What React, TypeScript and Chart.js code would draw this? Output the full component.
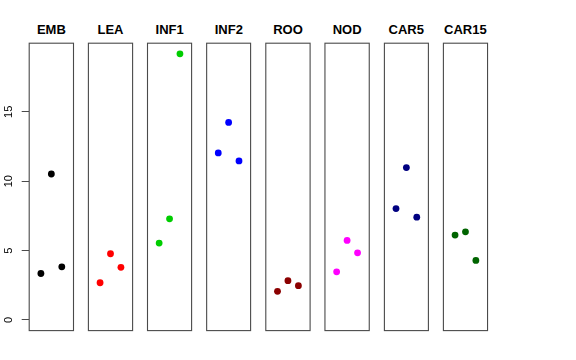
import React, { useEffect, useRef } from "react";
import { Chart, registerables } from "chart.js";

Chart.register(...registerables);

const groups = ["EMB", "LEA", "INF1", "INF2", "ROO", "NOD", "CAR5", "CAR15"];
const colors = ["#000000", "#FF0000", "#00CD00", "#0000FF", "#8B0000", "#FF00FF", "#000080", "#006400"];
const reps = [1, 2, 3];
const EMB = [3.35, 10.52, 3.83];
const LEA = [2.68, 4.77, 3.79];
const INF1 = [5.54, 7.29, 19.18];
const INF2 = [12.04, 14.24, 11.46];
const ROO = [2.06, 2.83, 2.47];
const NOD = [3.47, 5.73, 4.84];
const CAR5 = [8.03, 10.98, 7.41];
const CAR15 = [6.12, 6.35, 4.29];
const series = [EMB, LEA, INF1, INF2, ROO, NOD, CAR5, CAR15];
const yTicks = [0, 5, 10, 15];

const yMaxData = Math.max(...series.flat());
const yExt = yMaxData * 0.04;
const Y_MIN = -yExt;
const Y_MAX = yMaxData + yExt;

const PANEL_LEFT0 = 29.2;
const PANEL_STEP = 59.15;
const PANEL_W = 44.3;
const PANEL_TOP = 43.2;
const PANEL_BOTTOM = 331;
const CANVAS_H = 334;
const FONT = "'Liberation Sans', Arial, Helvetica, sans-serif";

const boxPlugin = {
  id: "boxPlugin",
  afterDraw(chart: any) {
    const { ctx, chartArea } = chart;
    ctx.save();
    ctx.strokeStyle = "#4a4a4a";
    ctx.lineWidth = 1.1;
    ctx.strokeRect(chartArea.left, chartArea.top, chartArea.right - chartArea.left, chartArea.bottom - chartArea.top);
    ctx.restore();
  },
};

function Panel({ idx }: { idx: number }) {
  const ref = useRef<HTMLCanvasElement>(null);
  const pl = PANEL_LEFT0 + idx * PANEL_STEP;
  const pr = pl + PANEL_W;
  const first = idx === 0;
  const canvasLeft = first ? 0 : Math.floor(pl) - 3;
  const canvasW = Math.ceil(pr) + 3 - canvasLeft;
  const padLeft = first ? 0 : pl - canvasLeft;
  const padRight = canvasLeft + canvasW - pr;

  useEffect(() => {
    if (!ref.current) return;
    const chart = new Chart(ref.current, {
      type: "scatter",
      data: {
        datasets: [
          {
            data: reps.map((r, i) => ({ x: r, y: series[idx][i] })),
            backgroundColor: colors[idx],
            borderColor: colors[idx],
            borderWidth: 0,
            pointRadius: 3.4,
            pointHoverRadius: 3.4,
          },
        ],
      },
      options: {
        animation: false,
        responsive: false,
        events: [],
        layout: {
          padding: { left: padLeft, right: padRight, top: PANEL_TOP, bottom: CANVAS_H - PANEL_BOTTOM },
        },
        plugins: {
          legend: { display: false },
          tooltip: { enabled: false },
          title: { display: false },
        },
        scales: {
          x: {
            type: "linear",
            display: false,
            min: -0.12,
            max: 4.12,
          },
          y: {
            type: "linear",
            display: first,
            position: "left",
            min: Y_MIN,
            max: Y_MAX,
            afterBuildTicks: (s: any) => {
              s.ticks = yTicks.map((v) => ({ value: v }));
            },
            afterFit: (s: any) => {
              s.width = first ? PANEL_LEFT0 : 0;
              s.paddingTop = 0;
              s.paddingBottom = 0;
            },
            border: { display: false },
            grid: {
              display: true,
              drawOnChartArea: false,
              drawTicks: true,
              tickLength: 7.5,
              color: "#4a4a4a",
              lineWidth: 1,
            },
            ticks: {
              minRotation: 90,
              maxRotation: 90,
              crossAlign: "center",
              padding: 7,
              color: "#000",
              font: { family: FONT, size: 11 },
              callback: (v: any) => String(v),
            },
          },
        },
      },
      plugins: [boxPlugin],
    });
    return () => chart.destroy();
  }, [idx]);

  return (
    <>
      <div
        style={{
          position: "absolute",
          left: pl,
          width: PANEL_W,
          top: 21,
          height: 17,
          lineHeight: "17px",
          textAlign: "center",
          fontFamily: FONT,
          fontWeight: "bold",
          fontSize: 13,
          color: "#000",
          whiteSpace: "nowrap",
          display: "flex",
          justifyContent: "center",
        }}
      >
        {groups[idx]}
      </div>
      <canvas
        ref={ref}
        width={canvasW}
        height={CANVAS_H}
        style={{ position: "absolute", left: canvasLeft, top: 0, width: canvasW, height: CANVAS_H }}
      />
    </>
  );
}

export default function App() {
  return (
    <div style={{ position: "fixed", left: 0, top: 0, width: 576, height: 360, background: "#fff", overflow: "hidden" }}>
      {groups.map((g, i) => (
        <Panel key={g} idx={i} />
      ))}
    </div>
  );
}
